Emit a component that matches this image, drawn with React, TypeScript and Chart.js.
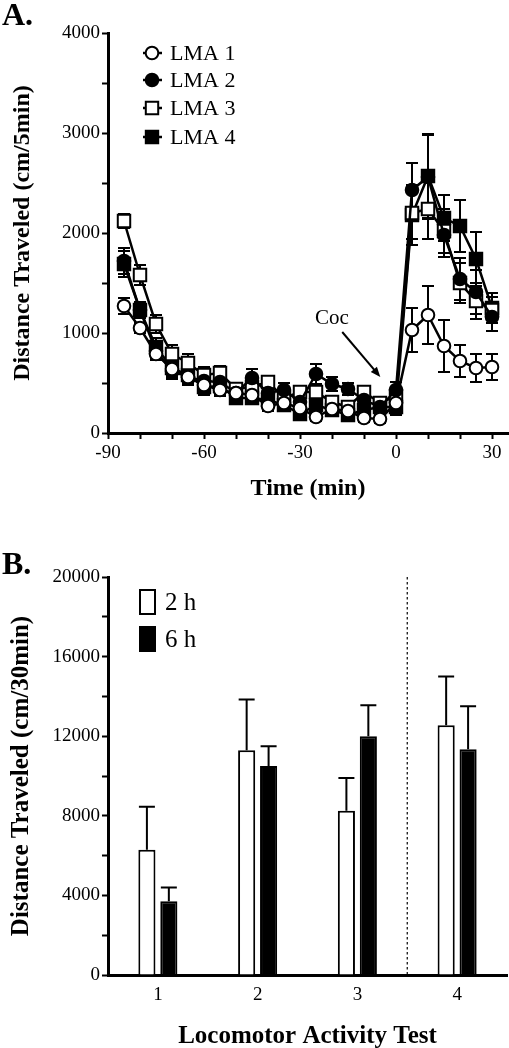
import React, { useEffect, useRef } from 'react';
import { Chart, registerables } from 'chart.js';

Chart.register(...registerables);

const serif = "'Liberation Serif', 'Times New Roman', serif";

// ---------- Panel A data ----------
const timeMin = [-85, -80, -75, -70, -65, -60, -55, -50, -45, -40, -35, -30, -25, -20, -15, -10, -5, 0, 5, 10, 15, 20, 25, 30];
const lma1 = [1270, 1050, 790, 640, 560, 480, 430, 400, 380, 270, 300, 250, 160, 240, 220, 150, 140, 300, 1030, 1180, 870, 720, 650, 660];
const lma1Err = [80, 50, 60, 60, 60, 60, 50, 50, 50, 50, 50, 50, 40, 50, 40, 40, 40, 60, 220, 290, 260, 160, 140, 130];
const lma2 = [1720, 1230, 820, 620, 560, 520, 510, 400, 550, 400, 430, 310, 590, 490, 440, 330, 260, 430, 2430, 2560, 1980, 1540, 1410, 1160];
const lma2Err = [130, 80, 80, 80, 80, 80, 80, 60, 90, 70, 70, 60, 100, 70, 60, 60, 50, 80, 270, 420, 220, 210, 220, 140];
const lma3 = [2120, 1580, 1090, 790, 700, 580, 600, 440, 460, 510, 350, 410, 410, 310, 260, 410, 300, 370, 2200, 2240, 2020, 1500, 1320, 1230];
const lma3Err = [70, 100, 90, 90, 90, 80, 70, 60, 60, 60, 60, 60, 60, 60, 60, 60, 50, 70, 260, 300, 220, 200, 180, 130];
const lma4 = [1690, 1230, 860, 650, 580, 460, 470, 350, 350, 330, 280, 190, 280, 230, 180, 230, 260, 260, 2180, 2570, 2150, 2070, 1740, 1250];
const lma4Err = [130, 80, 90, 90, 90, 80, 100, 60, 60, 60, 60, 60, 60, 60, 60, 60, 50, 80, 300, 420, 230, 260, 270, 150];
const seriesLabels = ['LMA 1', 'LMA 2', 'LMA 3', 'LMA 4'];
const xTicksA = [-90, -80, -70, -60, -50, -40, -30, -20, -10, 0, 10, 20, 30];
const yTicksA = [0, 500, 1000, 1500, 2000, 2500, 3000, 3500, 4000];

// ---------- Panel B data ----------
const tests = ['1', '2', '3', '4'];
const twoH = [6300, 11300, 8250, 12550];
const twoHErr = [2150, 2550, 1650, 2450];
const sixH = [3700, 10500, 12000, 11350];
const sixHErr = [700, 1000, 1550, 2150];
const barLabels = ['2 h', '6 h'];
const yTicksB = [0, 2000, 4000, 6000, 8000, 10000, 12000, 14000, 16000, 18000, 20000];

type Style = { shape: 'circle' | 'rect'; fill: string };
const styles: Style[] = [
  { shape: 'circle', fill: '#fff' },
  { shape: 'circle', fill: '#000' },
  { shape: 'rect', fill: '#fff' },
  { shape: 'rect', fill: '#000' },
];

function drawMarker(ctx: CanvasRenderingContext2D, x: number, y: number, st: Style) {
  ctx.save();
  ctx.beginPath();
  if (st.shape === 'circle') ctx.arc(x, y, 6.3, 0, Math.PI * 2);
  else ctx.rect(x - 6.2, y - 6.2, 12.4, 12.4);
  ctx.fillStyle = st.fill;
  ctx.fill();
  ctx.lineWidth = 2;
  ctx.strokeStyle = '#000';
  ctx.stroke();
  ctx.restore();
}

function topConfig(): any {
  const vals = [lma1, lma2, lma3, lma4];
  const errs = [lma1Err, lma2Err, lma3Err, lma4Err];
  const errPlugin = {
    id: 'errA',
    beforeDatasetsDraw(chart: any) {
      const { ctx } = chart;
      const ys = chart.scales.y;
      ctx.save();
      ctx.strokeStyle = '#000';
      ctx.lineWidth = 2;
      vals.forEach((v, di) => {
        const meta = chart.getDatasetMeta(di);
        v.forEach((val, j) => {
          const x = meta.data[j].x;
          const yt = ys.getPixelForValue(val + errs[di][j]);
          const yb = ys.getPixelForValue(val - errs[di][j]);
          ctx.beginPath();
          ctx.moveTo(x, yt); ctx.lineTo(x, yb);
          ctx.moveTo(x - 6, yt); ctx.lineTo(x + 6, yt);
          ctx.moveTo(x - 6, yb); ctx.lineTo(x + 6, yb);
          ctx.stroke();
        });
      });
      ctx.restore();
    },
    afterDraw(chart: any) {
      const { ctx } = chart;
      const xs = chart.scales.x;
      const ys = chart.scales.y;
      // legend
      ctx.save();
      const rows = [53, 80, 108, 137];
      seriesLabels.forEach((lab, i) => {
        ctx.strokeStyle = '#000';
        ctx.lineWidth = 2.5;
        ctx.beginPath();
        ctx.moveTo(143, rows[i]); ctx.lineTo(162, rows[i]);
        ctx.stroke();
        drawMarker(ctx, 152, rows[i], styles[i]);
        ctx.fillStyle = '#000';
        ctx.font = `22px ${serif}`;
        ctx.textBaseline = 'middle';
        ctx.textAlign = 'left';
        ctx.fillText(lab, 170, rows[i] + 1);
      });
      // Coc annotation
      ctx.font = `21px ${serif}`;
      ctx.textAlign = 'center';
      ctx.fillText('Coc', xs.getPixelForValue(-20), ys.getPixelForValue(1150));
      const x0 = xs.getPixelForValue(-16.8), y0 = ys.getPixelForValue(1010);
      const x1 = xs.getPixelForValue(-4.9), y1 = ys.getPixelForValue(560);
      const ang = Math.atan2(y1 - y0, x1 - x0);
      ctx.lineWidth = 2;
      ctx.beginPath();
      ctx.moveTo(x0, y0);
      ctx.lineTo(x1 - 6 * Math.cos(ang), y1 - 6 * Math.sin(ang));
      ctx.stroke();
      ctx.beginPath();
      ctx.moveTo(x1, y1);
      ctx.lineTo(x1 - 10 * Math.cos(ang) + 4 * Math.sin(ang), y1 - 10 * Math.sin(ang) - 4 * Math.cos(ang));
      ctx.lineTo(x1 - 10 * Math.cos(ang) - 4 * Math.sin(ang), y1 - 10 * Math.sin(ang) + 4 * Math.cos(ang));
      ctx.closePath();
      ctx.fill();
      ctx.restore();
    },
  };

  const datasets = vals.map((v, i) => ({
    label: seriesLabels[i],
    data: timeMin.map((t, j) => ({ x: t, y: v[j] })),
    borderColor: '#000',
    borderWidth: 2.5,
    pointStyle: styles[i].shape,
    pointRadius: styles[i].shape === 'circle' ? 6.3 : 8.8,
    pointBackgroundColor: styles[i].fill,
    pointBorderColor: '#000',
    pointBorderWidth: 2,
    tension: 0,
    fill: false,
    clip: false,
  }));

  return {
    type: 'line',
    data: { datasets },
    plugins: [errPlugin],
    options: {
      animation: false,
      responsive: false,
      events: [],
      layout: { autoPadding: false, padding: { top: 33, right: 1, left: 0, bottom: 0 } },
      plugins: { legend: { display: false }, tooltip: { enabled: false } },
      scales: {
        x: {
          type: 'linear',
          min: -90,
          max: 35,
          afterBuildTicks: (s: any) => { s.ticks = xTicksA.map((v) => ({ value: v })); },
          afterFit: (s: any) => { s.height = 87; s.paddingLeft = 0; s.paddingRight = 0; },
          grid: { drawOnChartArea: false, drawTicks: true, tickLength: 6, tickWidth: 2, tickColor: '#000' },
          border: { color: '#000', width: 3 },
          ticks: {
            autoSkip: false, maxRotation: 0, color: '#000', padding: 3,
            font: { family: serif, size: 19 },
            callback: (v: number) => (v % 30 === 0 ? String(v) : ''),
          },
          title: { display: true, text: 'Time (min)', color: '#000', font: { family: serif, size: 24, weight: 'bold' }, padding: { top: 0, bottom: 17 } },
        },
        y: {
          min: 0,
          max: 4000,
          afterBuildTicks: (s: any) => { s.ticks = yTicksA.map((v) => ({ value: v })); },
          afterFit: (s: any) => { s.width = 108; s.paddingTop = 0; s.paddingBottom = 0; },
          grid: { drawOnChartArea: false, drawTicks: true, tickLength: 6, tickWidth: 2, tickColor: '#000' },
          border: { color: '#000', width: 3 },
          ticks: {
            autoSkip: false, color: '#000', padding: 2,
            font: { family: serif, size: 19 },
            callback: (v: number) => (v % 1000 === 0 ? String(v) : ''),
          },
          title: { display: true, text: 'Distance Traveled (cm/5min)', color: '#000', font: { family: serif, size: 24, weight: 'bold' }, padding: { top: 8, bottom: 0 } },
        },
      },
    },
  };
}

function botConfig(): any {
  const vals = [twoH, sixH];
  const errs = [twoHErr, sixHErr];
  const plugin = {
    id: 'errB',
    beforeDatasetsDraw(chart: any) {
      const { ctx, chartArea } = chart;
      const xs = chart.scales.x;
      const ys = chart.scales.y;
      ctx.save();
      // dotted separator between tests 3 and 4
      const xd = (xs.getPixelForValue(2) + xs.getPixelForValue(3)) / 2;
      ctx.strokeStyle = '#000';
      ctx.lineWidth = 1.2;
      ctx.setLineDash([2.5, 2.5]);
      ctx.beginPath();
      ctx.moveTo(xd, chartArea.top);
      ctx.lineTo(xd, chartArea.bottom);
      ctx.stroke();
      ctx.setLineDash([]);
      ctx.lineWidth = 2;
      vals.forEach((v, di) => {
        const meta = chart.getDatasetMeta(di);
        v.forEach((val, j) => {
          const x = meta.data[j].x;
          const y0 = ys.getPixelForValue(val);
          const yt = ys.getPixelForValue(val + errs[di][j]);
          ctx.beginPath();
          ctx.moveTo(x, y0); ctx.lineTo(x, yt);
          ctx.moveTo(x - 8, yt); ctx.lineTo(x + 8, yt);
          ctx.stroke();
        });
      });
      ctx.restore();
    },
    afterDraw(chart: any) {
      const { ctx } = chart;
      ctx.save();
      const rows = [70, 107];
      const fills = ['#fff', '#000'];
      barLabels.forEach((lab, i) => {
        ctx.fillStyle = fills[i];
        ctx.fillRect(140, rows[i], 15, 24);
        ctx.strokeStyle = '#000';
        ctx.lineWidth = 2;
        ctx.strokeRect(140, rows[i], 15, 24);
        ctx.fillStyle = '#000';
        ctx.font = `25px ${serif}`;
        ctx.textBaseline = 'middle';
        ctx.textAlign = 'left';
        ctx.fillText(lab, 165, rows[i] + 13);
      });
      ctx.restore();
    },
  };
  return {
    type: 'bar',
    data: {
      labels: tests,
      datasets: [
        { label: barLabels[0], data: twoH, backgroundColor: '#fff', borderColor: '#000', borderWidth: 2, categoryPercentage: 0.44, barPercentage: 0.78 },
        { label: barLabels[1], data: sixH, backgroundColor: '#000', borderColor: '#000', borderWidth: 2, categoryPercentage: 0.44, barPercentage: 0.78 },
      ],
    },
    plugins: [plugin],
    options: {
      animation: false,
      responsive: false,
      events: [],
      layout: { autoPadding: false, padding: { top: 57, right: 2, left: 0, bottom: 0 } },
      plugins: { legend: { display: false }, tooltip: { enabled: false } },
      scales: {
        x: {
          afterFit: (s: any) => { s.height = 73; s.paddingLeft = 0; s.paddingRight = 0; },
          grid: { drawOnChartArea: false, drawTicks: false },
          border: { color: '#000', width: 3 },
          ticks: { color: '#000', padding: 9, font: { family: serif, size: 19 } },
          title: { display: true, text: 'Locomotor Activity Test', color: '#000', font: { family: serif, size: 25, weight: 'bold' }, padding: { top: 0, bottom: -4 } },
        },
        y: {
          min: 0,
          max: 20000,
          afterBuildTicks: (s: any) => { s.ticks = yTicksB.map((v) => ({ value: v })); },
          afterFit: (s: any) => { s.width = 108; s.paddingTop = 0; s.paddingBottom = 0; },
          grid: { drawOnChartArea: false, drawTicks: true, tickLength: 6, tickWidth: 2, tickColor: '#000' },
          border: { color: '#000', width: 3 },
          ticks: {
            autoSkip: false, color: '#000', padding: 2,
            font: { family: serif, size: 19 },
            callback: (v: number) => (v % 4000 === 0 ? String(v) : ''),
          },
          title: { display: true, text: 'Distance Traveled (cm/30min)', color: '#000', font: { family: serif, size: 25, weight: 'bold' }, padding: { top: 7, bottom: 0 } },
        },
      },
    },
  };
}

export default function App() {
  const topRef = useRef<HTMLCanvasElement>(null);
  const botRef = useRef<HTMLCanvasElement>(null);
  useEffect(() => {
    const c1 = new Chart(topRef.current as HTMLCanvasElement, topConfig());
    const c2 = new Chart(botRef.current as HTMLCanvasElement, botConfig());
    return () => { c1.destroy(); c2.destroy(); };
  }, []);
  const lbl: React.CSSProperties = { position: 'absolute', left: 2, fontFamily: serif, fontWeight: 'bold', fontSize: 32, lineHeight: 'normal', color: '#000' };
  return (
    <div style={{ position: 'absolute', left: 0, top: 0, width: 509, height: 1048, background: '#fff', overflow: 'hidden' }}>
      <canvas ref={topRef} width={509} height={520} style={{ position: 'absolute', left: 0, top: 0 }} />
      <canvas ref={botRef} width={509} height={528} style={{ position: 'absolute', left: 0, top: 520 }} />
      <div style={{ ...lbl, top: -4 }}>A.</div>
      <div style={{ ...lbl, top: 545 }}>B.</div>
    </div>
  );
}
